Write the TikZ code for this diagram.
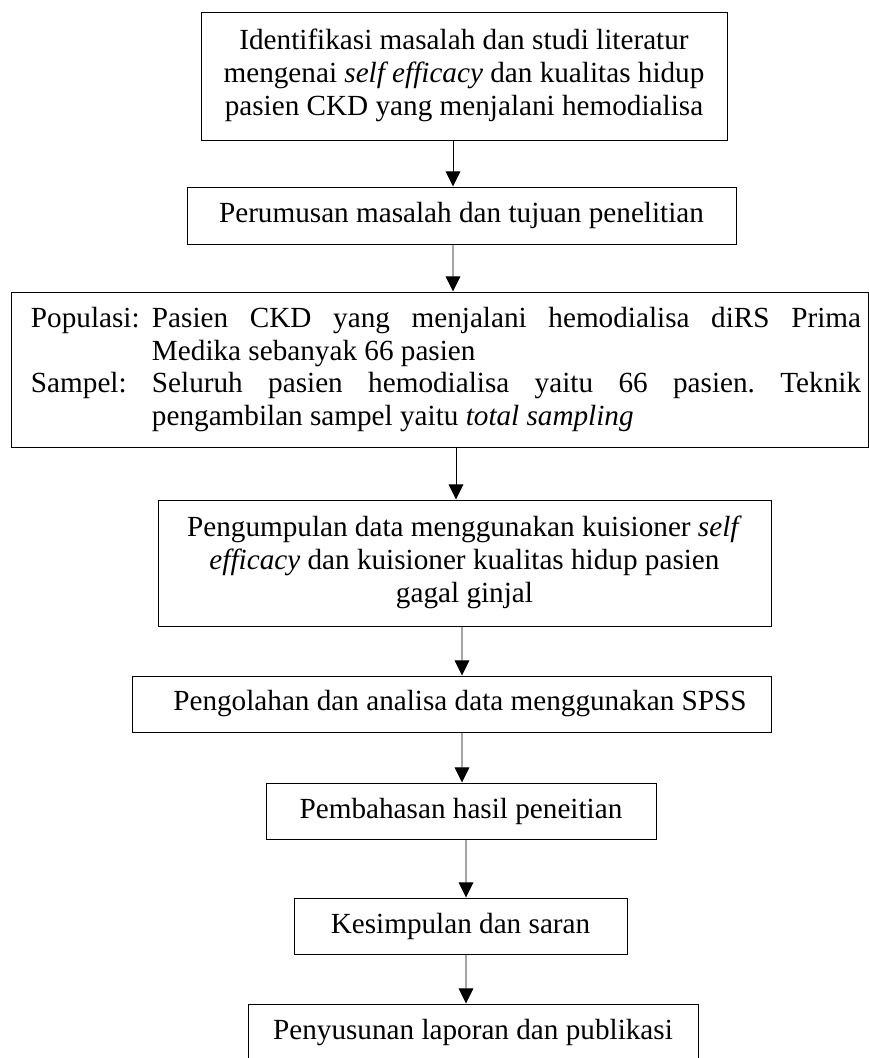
\documentclass[tikz,border=0pt]{standalone}
\usepackage{fontspec}
\setmainfont{Liberation Serif}
\usetikzlibrary{arrows.meta}
\newlength{\px}
\setlength{\px}{0.411pt}
\frenchspacing
\tikzstyle{stage} = [rectangle, draw=black, inner sep=0pt, text centered, font=\fontsize{12}{13.4}\selectfont]
\tikzstyle{arrow} = [->, >={Triangle[width=6pt, length=6.2pt]}]

\begin{document}
\begin{tikzpicture}[x=0.411pt, y=-0.411pt]
\clip (0, 0) rectangle (869, 1058);

\node at (464, 76) (identifikasi) [stage, minimum width=526\px, minimum height=128\px] {\begin{tabular}{c} Identifikasi masalah dan studi literatur \\ mengenai \textit{self efficacy} dan kualitas hidup \\ pasien CKD yang menjalani hemodialisa \end{tabular}};
\node at (461.5, 215.5) (perumusan) [stage, minimum width=549\px, minimum height=57\px] {Perumusan masalah dan tujuan penelitian};
\node at (439.5, 369.5) (populasi) [stage, align=justify, text width=857\px, minimum height=155\px] {\parindent=0pt \parskip=0pt \leftskip=20\px \rightskip=7\px
\hangindent=121\px \hangafter=1 \makebox[121\px][l]{Populasi:}Pasien CKD yang menjalani hemodialisa diRS Prima\linebreak Medika sebanyak 66 pasien\par
\hangindent=121\px \hangafter=1 \makebox[121\px][l]{Sampel:}Seluruh pasien hemodialisa yaitu 66 pasien. Teknik\linebreak pengambilan sampel yaitu \textit{total sampling}\par};
\node at (464.5, 563) (pengumpulan) [stage, minimum width=613\px, minimum height=126\px] {\begin{tabular}{c} Pengumpulan data menggunakan kuisioner \textit{self} \\ \textit{efficacy} dan kuisioner kualitas hidup pasien \\ gagal ginjal \end{tabular}};
\node at (451.5, 704) (pengolahan) [stage, minimum width=639\px, minimum height=56\px] {\hspace*{17\px}Pengolahan dan analisa data menggunakan SPSS};
\node at (461, 811) (pembahasan) [stage, minimum width=390\px, minimum height=56\px] {Pembahasan hasil peneitian};
\node at (460.5, 926) (kesimpulan) [stage, minimum width=333\px, minimum height=56\px] {Kesimpulan dan saran};
\node at (473, 1033) (penyusunan) [stage, minimum width=450\px, minimum height=58\px] {Penyusunan laporan dan publikasi};

\draw [arrow] ([xshift=-11\px]identifikasi.south) -- ([xshift=-8.5\px]perumusan.north);
\draw [arrow] ([xshift=-8.5\px]perumusan.south) -- ([xshift=13.5\px]populasi.north);
\draw [arrow] ([xshift=16.5\px]populasi.south) -- ([xshift=-8.5\px]pengumpulan.north);
\draw [arrow] ([xshift=-2.5\px]pengumpulan.south) -- ([xshift=10.5\px]pengolahan.north);
\draw [arrow] ([xshift=10.5\px]pengolahan.south) -- ([xshift=1\px]pembahasan.north);
\draw [arrow] ([xshift=5\px]pembahasan.south) -- ([xshift=5.5\px]kesimpulan.north);
\draw [arrow] ([xshift=5.5\px]kesimpulan.south) -- ([xshift=-7\px]penyusunan.north);

\end{tikzpicture}
\end{document}
